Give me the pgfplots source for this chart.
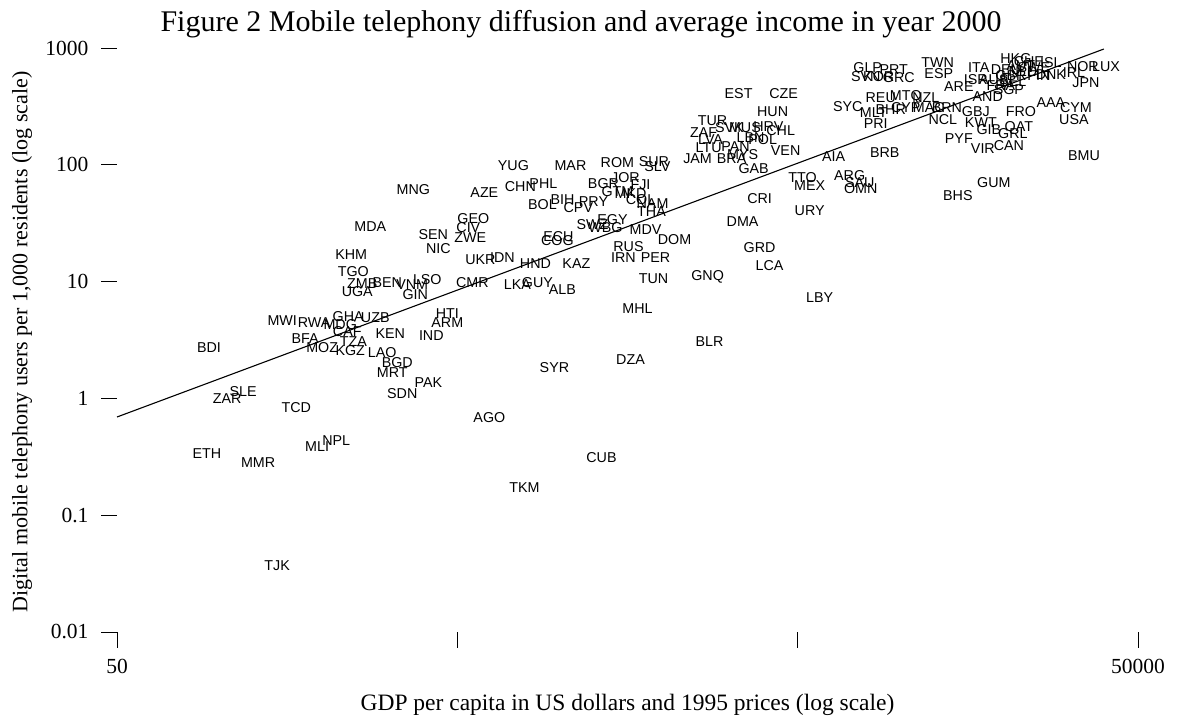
\documentclass[border=0pt]{standalone}
\usepackage{fontspec}
\setmainfont{Liberation Serif}
\newfontfamily\labfont{Liberation Sans}
\usepackage{pgfplots}
\pgfplotsset{compat=1.18}
\begin{document}
\begin{tikzpicture}[x=1pt,y=1pt]
\useasboundingbox (0,0) rectangle (1177,719);
\node[font=\fontsize{30}{30}\selectfont] at (581,695) {Figure 2 Mobile telephony diffusion and average income in year 2000};
\node[font=\fontsize{22}{22}\selectfont, rotate=90] at (22,377) {Digital mobile telephony users per 1,000 residents (log scale)};
\node[font=\fontsize{23.5}{23.5}\selectfont] at (627.5,14) {GDP per capita in US dollars and 1995 prices (log scale)};
\begin{axis}[
  at={(117pt,87pt)}, anchor=south west,
  scale only axis, width=1021pt, height=584pt,
  xmode=log, ymode=log,
  xmin=50, xmax=50000, ymin=0.01, ymax=1000,
  clip=false,
  axis line style={draw=none},
  tick pos=left, tick align=outside,
  major tick length=16pt,
  tick style={black, line width=0.8pt},
  xminorticks=false, yminorticks=false,
  xtick={50,500,5000,50000}, xticklabels={50,,,50000},
  ytick={0.01,0.1,1,10,100,1000}, yticklabels={0.01,0.1,1,10,100,1000},
  ticklabel style={font=\fontsize{21.5}{21.5}\selectfont},
  xticklabel style={yshift=-8pt},
  yticklabel style={xshift=-9pt},
]
\addplot[black, line width=1.1pt] coordinates {(50,0.693) (39700,980)};
\addplot[only marks, mark=*, mark size=0pt, draw=none, fill=none,
  nodes near coords, point meta=explicit symbolic,
  nodes near coords style={anchor=center, inner sep=0pt, text=black, font=\labfont\fontsize{14.3}{14.3}\selectfont}]
table[meta=lab] {
x y lab
93.2 2.75 BDI
105.3 0.989 ZAR
117.4 1.135 SLE
168.1 0.828 TCD
91.9 0.334 ETH
129.9 0.280 MMR
193.7 0.384 MLI
220.4 0.432 NPL
147.8 0.0367 TJK
152.9 4.60 MWI
189.8 4.42 RWA
178.6 3.23 BFA
200.4 2.75 MOZ
226.4 4.25 MDG
239.0 4.98 GHA
287.0 4.88 UZB
237.4 3.70 CAF
247.3 3.04 TZA
242.3 2.55 KGZ
300.9 2.45 LAO
333.0 2.01 BGD
321.9 1.65 MRT
410.9 1.355 PAK
344.5 1.09 SDN
317.6 3.56 KEN
419.3 3.42 IND
467.2 5.28 HTI
467.2 4.42 ARM
621.1 0.679 AGO
964.5 1.82 SYR
787.3 0.171 TKM
1614 2.13 DZA
1326 0.309 CUB
2755 3.04 BLR
1692 5.82 MHL
5801 7.24 LBY
1886 10.7 TUN
2719 10.9 GNQ
1018 8.47 ALB
750.8 9.35 LKA
859.7 9.72 GUY
848.1 14.4 HND
1119 14.4 KAZ
1539 16.2 IRN
1912 15.9 PER
1592 19.8 RUS
991 24.1 ECU
984 22.3 COG
1786 27.7 MDV
2174 22.7 DOM
1248 30.5 SWZ
1362 28.8 WBG
1428 33.7 EGY
678.4 16.2 IDN
584.3 15.3 UKR
553.5 9.72 CMR
371.2 60.8 MNG
600.4 57.4 AZE
277.4 29.3 MDA
557.3 34.4 GEO
538.7 28.8 CIV
425.0 25.1 SEN
546.0 23.6 ZWE
439.7 19.0 NIC
243.9 17.2 KHM
247.3 12.3 TGO
262.8 9.53 ZMB
254.1 8.15 UGA
311.2 9.72 BEN
368.6 9.35 VNM
408.1 10.5 LSO
376.3 7.68 GIN
730.7 97.7 YUG
1075 97.7 MAR
1477 103.6 ROM
1890 105.6 SUR
1935 95.7 SLV
766.2 64.6 CHN
895.0 68.5 PHL
1344 68.5 BGR
1560 77.1 JOR
1727 67.1 FJI
1477 58.5 GTM
1614 56.2 MKD
1727 50.0 COL
1873 46.2 NAM
1860 39.4 THA
1018 50.0 BIH
889.2 45.3 BOL
1256 48.0 PRY
1134 42.7 CPV
3866 50.9 CRI
3445 32.4 DMA
3866 19.4 GRD
4136 13.6 LCA
5424 40.2 URY
5172 77.1 TTO
5424 65.8 MEX
7109 80.2 ARG
7609 69.8 SAU
7662 62.1 OMN
6381 116.7 AIA
9014 126.2 BRB
3712 92.0 GAB
4610 131.3 VEN
2540 112.2 JAM
3198 112.2 BRA
3445 121.3 MYS
3353 403.7 EST
4548 403.7 CZE
4222 283.1 HUN
2812 237.1 TUR
2646 187.2 ZAF
2774 163.0 LVA
2737 139.2 LTU
3285 142.0 PAN
3637 169.6 LBN
3946 163.0 POL
4457 194.6 CHL
3150 210 SVK
3500 208 MUS
4100 212 HRV
7015 312.5 SYC
8364 277.5 MLT
8480 223.5 PRI
8030 674.3 GLP
7925 564.5 SVN
8653 564.5 KOR
9580 648.3 PRT
9911 553.5 GRC
8772 373.3 REU
10390 380.5 MTQ
11900 373.3 NZL
9387 294.4 BHR
10390 306.4 CYP
12140 306.4 MAC
13720 306.4 BRN
12900 744.5 TWN
12990 598.8 ESP
17030 674.3 ITA
16690 532.0 ISR
14880 463.5 ARE
18860 532.0 AUS
18100 380.5 AND
16690 283.1 GBJ
13350 242.0 NCL
17270 227.9 KWT
18230 198.6 GIB
14880 166.3 PYF
17510 136.5 VIR
20870 144.9 CAN
22340 206.5 QAT
21450 183.5 GRL
22640 283.1 FRO
27740 338.1 AAA
32860 306.4 CYM
32420 242.0 USA
34690 118.9 BMU
18860 69.8 GUM
14780 54.1 BHS
21890 805.2 HKG
27740 744.5 ISL
34450 687.8 NOR
40260 687.8 LUX
35170 501.6 JPN
27740 587.2 DNK
32420 610.8 IRL
24730 674.3 SWE
19780 473 FRA
21160 575 GBR
20460 648.3 DEU
22950 623.7 NLD
21450 511.7 BEL
22640 701.4 AUT
23900 758.6 CHE
25570 575 FIN
20870 436.8 SGP
};
\end{axis}
\end{tikzpicture}
\end{document}
